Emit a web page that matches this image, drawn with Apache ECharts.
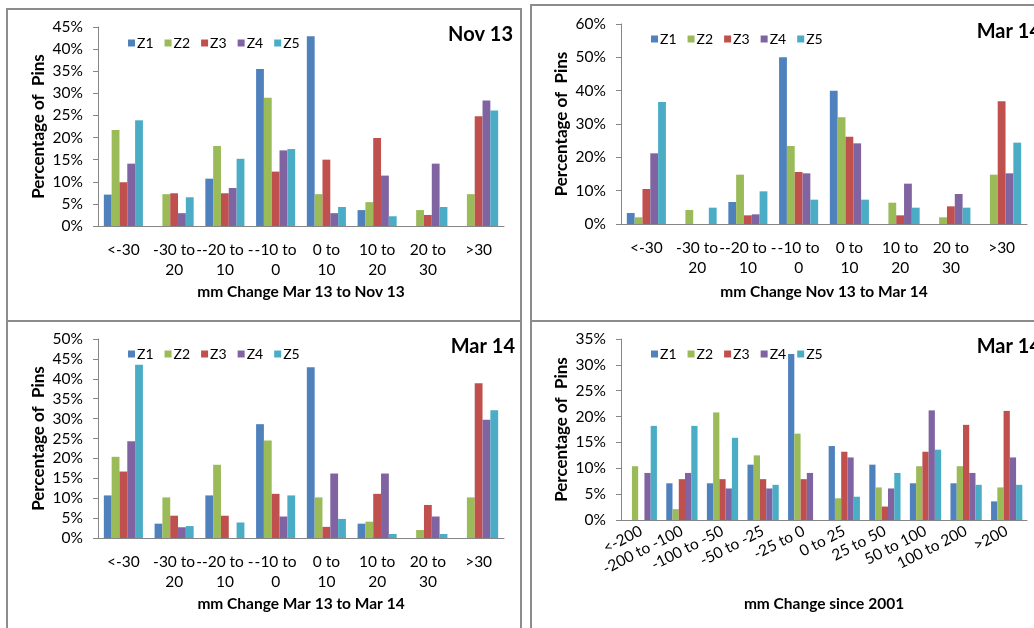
<!DOCTYPE html>
<html>
<head>
<meta charset="utf-8">
<script src="https://cdn.jsdelivr.net/npm/echarts@6/dist/echarts.min.js"></script>
<style>
  html, body { margin: 0; padding: 0; background: #fff; }
  #show { width: 1034px; height: 628px; }
</style>
</head>
<body>
<div id="show"></div>
<script>
var myChart = echarts.init(document.getElementById("show"));

var zones = ['Z1', 'Z2', 'Z3', 'Z4', 'Z5'];
var colors = ['#4F81BD', '#9BBB59', '#C0504D', '#8064A2', '#4BACC6'];

var cats30 = ['<-30', '-30 to\n20', '--20 to -\n10', '-10 to\n0', '0 to\n10', '10 to\n20', '20 to\n30', '>30'];
var cats2001 = ['<-200', '-200 to -100', '-100 to -50', '-50 to -25', '-25 to 0', '0 to 25', '25 to 50', '50 to 100', '100 to 200', '>200'];

// mm Change Mar 13 to Nov 13  (one row per zone)
var nov13 = [
    [7.1, 0, 10.7, 35.5, 42.9, 3.6, 0, 0],
    [21.7, 7.2, 18.1, 29.0, 7.2, 5.4, 3.6, 7.2],
    [9.9, 7.4, 7.4, 12.3, 15.0, 19.9, 2.5, 24.8],
    [14.1, 2.9, 8.6, 17.1, 2.9, 11.4, 14.1, 28.4],
    [23.9, 6.5, 15.2, 17.4, 4.3, 2.2, 4.3, 26.1]
];
// mm Change Nov 13 to Mar 14
var nov13ToMar14 = [
    [3.3, 0, 6.6, 50.0, 40.0, 0, 0, 0],
    [2.0, 4.2, 14.8, 23.4, 32.0, 6.4, 2.0, 14.8],
    [10.5, 0, 2.6, 15.6, 26.2, 2.6, 5.3, 36.8],
    [21.2, 0, 2.9, 15.2, 24.2, 12.1, 9.0, 15.2],
    [36.6, 4.9, 9.8, 7.3, 7.3, 4.9, 4.9, 24.4]
];
// mm Change Mar 13 to Mar 14
var mar13ToMar14 = [
    [10.7, 3.6, 10.7, 28.6, 42.9, 3.6, 0, 0],
    [20.4, 10.2, 18.4, 24.5, 10.2, 4.1, 2.0, 10.2],
    [16.7, 5.6, 5.6, 11.1, 2.8, 11.1, 8.3, 38.9],
    [24.3, 2.7, 0, 5.4, 16.2, 16.2, 5.4, 29.7],
    [43.5, 3.0, 3.9, 10.7, 4.8, 1.0, 1.0, 32.1]
];
// mm Change since 2001
var since2001 = [
    [0, 7.1, 7.1, 10.7, 32.1, 14.3, 10.7, 7.1, 7.1, 3.6],
    [10.4, 2.1, 20.8, 12.5, 16.7, 4.2, 6.3, 10.4, 10.4, 6.3],
    [0, 7.9, 7.9, 7.9, 7.9, 13.2, 2.6, 13.2, 18.4, 21.1],
    [9.1, 9.1, 6.1, 6.1, 9.1, 12.1, 6.1, 21.2, 9.1, 12.1],
    [18.2, 18.2, 15.9, 6.8, 0, 4.5, 9.1, 13.6, 6.8, 6.8]
];

var font = 'Lato, "Liberation Sans", sans-serif';

var panels = [
    { grid: { left: 98, top: 27, width: 406, height: 199 }, cats: cats30, data: nov13, max: 45, interval: 5,
      xname: 'mm Change Mar 13 to Nov 13', title: 'Nov 13', tx: 513, ty: 36, ly: 31, lx: 123, rot: 0, gap: 58 },
    { grid: { left: 621, top: 24, width: 406, height: 200 }, cats: cats30, data: nov13ToMar14, max: 60, interval: 10,
      xname: 'mm Change Nov 13 to Mar 14', title: 'Mar 14', tx: 1041, ty: 33, ly: 27, lx: 646, rot: 0, gap: 60 },
    { grid: { left: 98, top: 339, width: 406, height: 199 }, cats: cats30, data: mar13ToMar14, max: 50, interval: 5,
      xname: 'mm Change Mar 13 to Mar 14', title: 'Mar 14', tx: 515, ty: 348, ly: 342, lx: 123, rot: 0, gap: 58 },
    { grid: { left: 621, top: 339, width: 406, height: 181 }, cats: cats2001, data: since2001, max: 35, interval: 5,
      xname: 'mm Change since 2001', title: 'Mar 14', tx: 1041, ty: 348, ly: 342, lx: 646, rot: 27, gap: 76 }
];

var grids = [], xAxes = [], yAxes = [], series = [], legends = [], texts = [];

panels.forEach(function (p, i) {
    grids.push(p.grid);
    xAxes.push({
        type: 'category',
        gridIndex: i,
        data: p.cats,
        name: p.xname,
        nameLocation: 'middle',
        nameGap: p.gap,
        nameTextStyle: { fontFamily: font, fontWeight: 'bold', fontSize: 15.5, color: '#000' },
        axisLine: { lineStyle: { color: '#868686' } },
        axisTick: { length: 5, lineStyle: { color: '#868686' } },
        axisLabel: {
            interval: 0, rotate: p.rot, margin: p.rot ? 10 : 14,
            fontFamily: font, fontSize: 15.5, color: '#000', lineHeight: 20
        }
    });
    yAxes.push({
        type: 'value',
        gridIndex: i,
        min: 0,
        max: p.max,
        interval: p.interval,
        name: 'Percentage of  Pins',
        nameLocation: 'middle',
        nameGap: 51,
        nameTextStyle: { fontFamily: font, fontWeight: 'bold', fontSize: 17, color: '#000' },
        axisLine: { show: true, lineStyle: { color: '#868686' } },
        axisTick: { show: true, length: 5, lineStyle: { color: '#868686' } },
        splitLine: { show: false },
        axisLabel: { formatter: '{value}%', margin: 15, fontFamily: font, fontSize: 15.5, color: '#000' }
    });
    zones.forEach(function (z, k) {
        series.push({
            type: 'bar',
            name: z,
            xAxisIndex: i,
            yAxisIndex: i,
            data: p.data[k],
            barGap: '0%',
            barCategoryGap: '23%',
            itemStyle: { color: colors[k] },
            animation: false
        });
    });
    legends.push({
        data: zones,
        left: p.lx,
        top: p.ly,
        icon: 'rect',
        itemWidth: 7,
        itemHeight: 7,
        itemGap: 11,
        textStyle: { fontFamily: font, fontSize: 14, color: '#000', padding: [0, 0, 0, -3] }
    });
    texts.push({
        type: 'text',
        right: 1034 - p.tx,
        top: p.ty - 11,
        style: { text: p.title, font: 'bold 20px ' + font, fill: '#000' }
    });
});

var borders = [
    [7, 9, 514, 312],
    [531, 5, 520, 316],
    [7, 321, 514, 320],
    [531, 321, 520, 320]
].map(function (r) {
    return {
        type: 'rect',
        shape: { x: r[0], y: r[1], width: r[2], height: r[3] },
        style: { fill: 'none', stroke: '#8c8c8c', lineWidth: 2 },
        silent: true
    };
});

myChart.setOption({
    grid: grids,
    xAxis: xAxes,
    yAxis: yAxes,
    legend: legends,
    series: series,
    graphic: borders.concat(texts)
});
</script>
</body>
</html>
